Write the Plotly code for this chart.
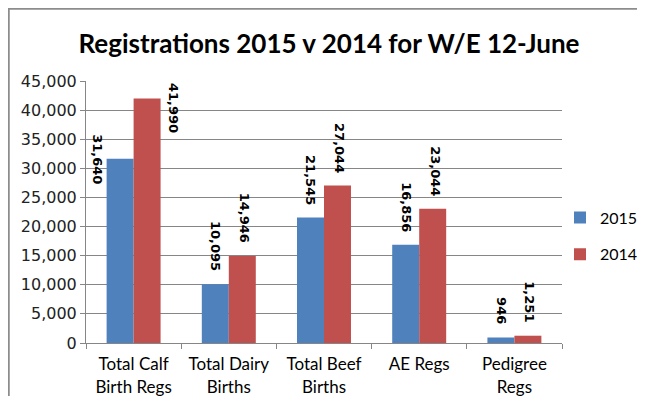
import plotly.graph_objects as go

categories = ["Total Calf<br>Birth Regs", "Total Dairy<br>Births", "Total Beef<br>Births", "AE Regs", "Pedigree<br>Regs"]
series_names = ["2015", "2014"]
values_2015 = [31640, 10095, 21545, 16856, 946]
values_2014 = [41990, 14946, 27044, 23044, 1251]
y_ticks = [0, 5000, 10000, 15000, 20000, 25000, 30000, 35000, 40000, 45000]

colors = ["#4F81BD", "#C0504D"]

# page has an 8px body margin: figure pixel = page pixel - 8
OFF = 8
W, H = 637, 388
L, R, T, B = 78, 83, 73, 53

fig = go.Figure()
for name, vals, c in zip(series_names, [values_2015, values_2014], colors):
    fig.add_trace(go.Bar(x=categories, y=vals, name=name, marker_color=c,
                         marker_line_width=0, legendgroup=name))

# data labels
half = 13.5
annotations = []
for i, cat in enumerate(categories):
    for s, vals in enumerate([values_2015, values_2014]):
        v = vals[i]
        base_shift = -half if s == 0 else half + 2
        if i == 0:
            if s == 0:
                annotations.append(dict(x=cat, y=v, xref="x", yref="y", text=f"<b>{v:,}</b>",
                                        textangle=90, showarrow=False, xanchor="center", yanchor="middle",
                                        xshift=-36, yshift=0))
            else:
                annotations.append(dict(x=cat, y=v, xref="x", yref="y", text=f"<b>{v:,}</b>",
                                        textangle=90, showarrow=False, xanchor="center", yanchor="middle",
                                        xshift=40, yshift=-9))
        else:
            annotations.append(dict(x=cat, y=v, xref="x", yref="y", text=f"<b>{v:,}</b>",
                                    textangle=90, showarrow=False, xanchor="center", yanchor="bottom",
                                    xshift=base_shift, yshift=11))

pw = W - L - R
ph = H - T - B
def px(x):  # page x -> paper
    return (x - OFF - L) / pw
def py(y):  # page y -> paper
    return (H - B - (y - OFF)) / ph

shapes = [
    dict(type="line", xref="paper", yref="paper", x0=px(8.5), x1=px(8.5), y0=py(7.5), y1=py(420),
         line=dict(color="#8C8C8C", width=2.5)),
    dict(type="line", xref="paper", yref="paper", x0=px(7.5), x1=px(660), y0=py(8.5), y1=py(8.5),
         line=dict(color="#8C8C8C", width=2.5)),
]

fig.update_layout(
    width=W, height=H,
    margin=dict(l=L, r=R, t=T, b=B, pad=0, autoexpand=False),
    paper_bgcolor="white", plot_bgcolor="white",
    barmode="group", bargap=0.433, bargroupgap=0,
    title=dict(text="<b>Registrations 2015 v 2014 for W/E 12-June</b>",
               font=dict(family="Lato", size=26, color="black"),
               x=(329 - OFF) / W, xref="container", xanchor="center",
               y=1 - (44 - OFF) / H, yref="container", yanchor="middle"),
    font=dict(family="DejaVu Sans", color="black"),
    legend=dict(x=(560 - OFF) / W, y=1 - (236 - OFF) / H, xref="container", yref="container",
                xanchor="left", yanchor="middle",
                font=dict(family="Lato", size=16, color="black"),
                tracegroupgap=13, itemwidth=30, bgcolor="rgba(0,0,0,0)"),
    annotations=annotations,
    shapes=shapes,
    showlegend=True,
)
fig.update_xaxes(showline=True, linecolor="#868686", linewidth=1, automargin=False,
                 ticks="outside", tickson="boundaries", ticklen=5, tickcolor="#868686",
                 ticklabelstandoff=6,
                 tickfont=dict(family="Lato", size=17, color="black"), showgrid=False)
fig.update_yaxes(range=[0, 45000], tickvals=y_ticks, tickformat=",", automargin=False,
                 showline=True, linecolor="#868686", linewidth=1,
                 ticks="outside", ticklen=5, tickcolor="#868686",
                 showgrid=True, gridcolor="#868686", gridwidth=1,
                 tickfont=dict(family="DejaVu Sans", size=16, color="#222222"), zeroline=False)
for a in fig.layout.annotations:
    a.font = dict(family="DejaVu Sans", size=13, color="black")

fig.write_html("out.html", config={"displayModeBar": False})
